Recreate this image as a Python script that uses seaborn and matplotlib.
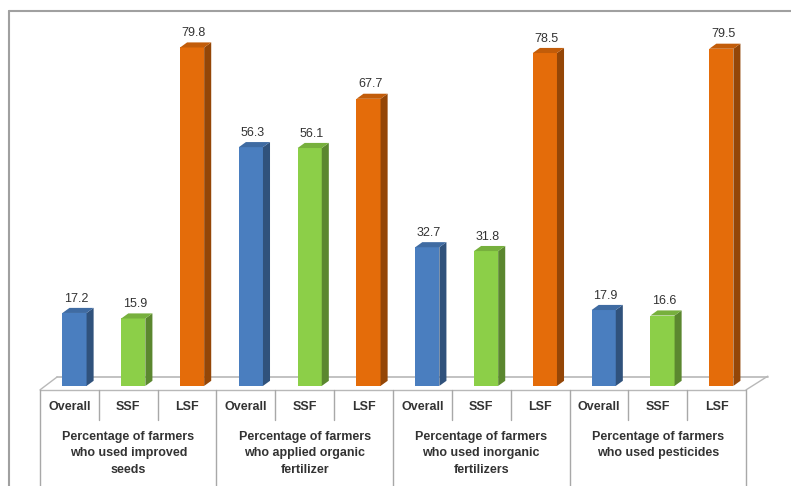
import matplotlib
matplotlib.use("Agg")
import matplotlib.pyplot as plt
import matplotlib.colors as mcolors
from matplotlib.patches import Polygon
from matplotlib.lines import Line2D
import pandas as pd
import seaborn as sns

# data
groups = ["Percentage of farmers\nwho used improved\nseeds",
          "Percentage of farmers\nwho applied organic\nfertilizer",
          "Percentage of farmers\nwho used inorganic\nfertilizers",
          "Percentage of farmers\nwho used pesticides"]
farm_types = ["Overall", "SSF", "LSF"]
improved_seeds = [17.2, 15.9, 79.8]
organic_fert = [56.3, 56.1, 67.7]
inorganic_fert = [32.7, 31.8, 78.5]
pesticides = [17.9, 16.6, 79.5]

palette = {"Overall": "#4a7ebf", "SSF": "#8ccf48", "LSF": "#e46c0a"}

rows = []
for g, vals in zip(groups, [improved_seeds, organic_fert, inorganic_fert, pesticides]):
    for t, v in zip(farm_types, vals):
        rows.append({"group": g, "type": t, "value": v})
df = pd.DataFrame(rows)
df["pos"] = [f"{i:02d}" for i in range(len(df))]

sns.set_style("white")
plt.rcParams["font.family"] = ["Liberation Sans", "DejaVu Sans"]

fig = plt.figure(figsize=(7.91, 4.86), dpi=100)
ax = fig.add_axes([0, 0, 1, 1])

sns.barplot(data=df, x="pos", y="value", hue="type", palette=palette,
            dodge=False, legend=False, width=0.41, ax=ax, zorder=3,
            linewidth=0, saturation=1)


def shade(col, f):
    return tuple(c * f for c in mcolors.to_rgb(col))


# fake 3D faces on each bar (colour taken from the bar itself)
dx, dy = 0.12, 1.2
bars = [p for p in ax.patches if p.get_height() > 0]
for bar in bars:
    x0 = bar.get_x()
    x1 = x0 + bar.get_width()
    h = bar.get_height()
    fc = bar.get_facecolor()[:3]
    side = Polygon([(x1, 0), (x1 + dx, dy), (x1 + dx, h + dy), (x1, h)],
                   closed=True, facecolor=shade(fc, 0.65), edgecolor="none", zorder=3)
    top = Polygon([(x0, h), (x0 + dx, h + dy), (x1 + dx, h + dy), (x1, h)],
                  closed=True, facecolor=shade(fc, 0.85), edgecolor="none", zorder=3)
    ax.add_patch(side)
    ax.add_patch(top)
    ax.text((x0 + x1) / 2 + 0.03, h + 3.4, f"{h:.1f}", ha="center", va="center",
            fontsize=9, color="#333333", zorder=4)

# axis mapping (categorical positions -> pixels)
ax.set_xlim(-1.267, 12.185)
ax.set_ylim(-23.6, 91.0)
ax.axis("off")

# floor
left, right = -0.587, 11.42
fy, by = -0.94, 2.1
fdx = 0.29
floor_col = "#b8b8b8"
ax.plot([left, right], [fy, fy], color=floor_col, lw=1.0, zorder=2)
ax.plot([left + fdx, right + 0.37], [by, by], color=floor_col, lw=1.2, zorder=2)
ax.plot([left, left + fdx], [fy, by], color=floor_col, lw=1.0, zorder=2)
ax.plot([right, right + 0.37], [fy, by + 0.2], color=floor_col, lw=1.0, zorder=2)

# category table
table_col = "#a8a8a8"
cell = (right - left) / 12
for k in range(13):
    xk = left + k * cell
    ybot = -23.6 if k % 3 == 0 else -8.0
    ax.plot([xk, xk], [fy, ybot], color=table_col, lw=1.0, zorder=2)

for i, t in enumerate(df["type"]):
    xc = left + (i + 0.5) * cell
    ax.text(xc, -5.0, t, ha="center", va="center", fontsize=9,
            fontweight="bold", color="#333333")

for j, g in enumerate(groups):
    xc = left + (3 * j + 1.5) * cell
    ax.text(xc, -10.6, g, ha="center", va="top", fontsize=9,
            fontweight="bold", color="#333333", linespacing=1.5)

# outer frame (left and top only, rest cropped)
fig.add_artist(Line2D([9 / 791, 9 / 791], [0, 1 - 11 / 486], color="#a0a0a0", lw=1.5))
fig.add_artist(Line2D([9 / 791, 1], [1 - 11 / 486, 1 - 11 / 486], color="#a0a0a0", lw=1.5))

fig.savefig("out.png", dpi=100)
